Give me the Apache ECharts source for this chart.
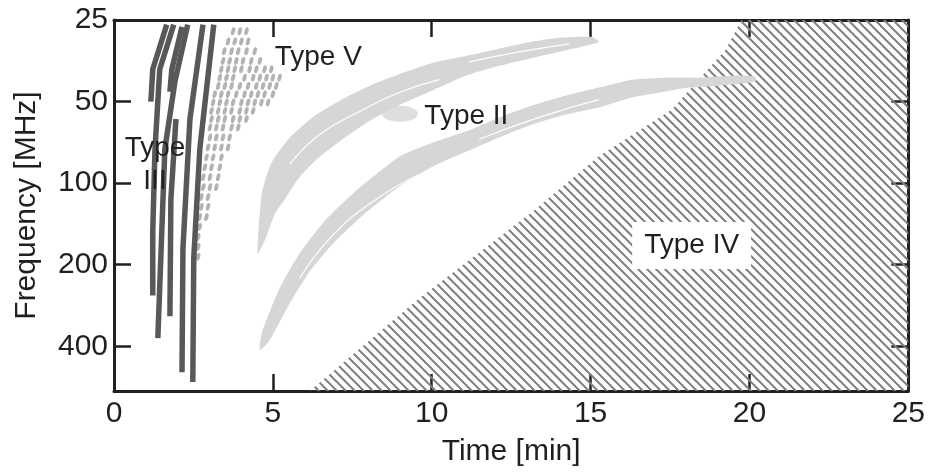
<!DOCTYPE html>
<html>
<head>
<meta charset="utf-8">
<script src="https://cdn.jsdelivr.net/npm/echarts@6/dist/echarts.min.js"></script>
<style>
  html, body { margin: 0; background: #fff; }
  #chart { width: 928px; height: 472px; }
</style>
</head>
<body>
<div id="chart"></div>
<script>
// axis ranges and tick labels
const timeMin = 0
const timeMax = 25
const timeStep = 5
const freqTicks = [25, 50, 100, 200, 400]
const freqMin = 25
const freqMax = 585

// Type III: fast drifting bursts, [time min, freq MHz]
const typeIIIBursts = [
  [[1.66, 26], [1.22, 38], [1.16, 50]],
  [[2.14, 26.5], [1.82, 38], [1.76, 46]],
  [[1.88, 26], [1.44, 38], [1.29, 75], [1.22, 150], [1.22, 260]],
  [[2.32, 26], [1.92, 42], [1.60, 75], [1.38, 373]],
  [[1.95, 58], [1.79, 115], [1.76, 310]],
  [[2.80, 26], [2.39, 58], [2.17, 174], [2.14, 499]],
  [[3.14, 26], [2.70, 75], [2.51, 190], [2.48, 542]]
]

// Type V: dotted patch, one row per frequency
const typeVFreqs = [27.5, 30, 32.6, 35.4, 38, 40.8, 43.8, 47, 50.4, 54.1, 58, 62.3, 67.8, 73.8, 80.3, 87.4, 95.1, 103.5, 112.5, 122.3, 133.4, 145, 158, 172, 187]
const typeVTimes = [
  [3.75, 3.96, 4.17],
  [3.59, 3.80, 4.01, 4.22],
  [3.47, 3.70, 3.91, 4.17, 4.43],
  [3.43, 3.64, 3.85, 4.06, 4.32, 4.59],
  [3.38, 3.59, 3.80, 4.01, 4.27, 4.48, 4.74, 4.95],
  [3.33, 3.54, 3.75, 4.11, 4.38, 4.59, 4.80, 5.00, 5.21],
  [3.28, 3.49, 3.70, 3.96, 4.22, 4.48, 4.69, 4.90, 5.11],
  [3.17, 3.38, 3.59, 3.85, 4.11, 4.32, 4.53, 4.74, 5.00],
  [3.12, 3.33, 3.54, 3.75, 4.01, 4.22, 4.43, 4.64, 4.85],
  [3.07, 3.28, 3.49, 3.70, 3.96, 4.17, 4.38],
  [3.07, 3.28, 3.49, 3.75, 3.96, 4.17],
  [3.02, 3.22, 3.43, 3.70, 3.91],
  [3.02, 3.22, 3.43, 3.64],
  [2.96, 3.17, 3.38, 3.59],
  [2.91, 3.12, 3.38],
  [2.86, 3.07, 3.33],
  [2.81, 3.02, 3.28],
  [2.81, 3.02, 3.22],
  [2.75, 2.96],
  [2.75, 2.96],
  [2.70, 2.91],
  [2.70],
  [2.65],
  [2.65],
  [2.65]
]

// Type II: two slowly drifting lanes, outline of each lane
const typeIIUpper = [
  [4.65, 109.7], [4.96, 84], [5.53, 68], [6.31, 56.5], [7.26, 48.5], [8.20, 43], [9.14, 39],
  [10.02, 36], [11.09, 33.9], [12.12, 31.9], [13.16, 30.1], [14.01, 29.1], [15.04, 28.9],
  [15.26, 30.1], [14.73, 31.4], [14.01, 32.8], [13.16, 34.5], [12.12, 36.9], [11.09, 40.1],
  [10.02, 45.5], [8.98, 51.5], [8.04, 59], [7.26, 68], [6.47, 80], [5.84, 95], [5.37, 115],
  [5.06, 130], [4.77, 160.5], [4.52, 182]
]
const typeIILower = [
  [4.65, 358], [5.21, 245], [5.84, 182], [6.63, 137.9], [7.57, 108], [8.98, 80], [10.02, 71],
  [11.09, 64.4], [12.12, 57.2], [13.16, 51.7], [14.23, 47.5], [15.26, 44.4], [16.30, 41.5],
  [17.37, 40.8], [18.40, 40.8], [19.66, 40.1], [20.19, 40.5],
  [20.19, 42.2], [19.03, 43.7], [18.09, 44.4], [17.37, 45.9], [16.30, 48.3], [15.26, 52.6],
  [14.23, 55.8], [13.16, 60.7], [12.12, 67.8], [11.09, 76.5], [10.02, 87], [8.98, 103],
  [7.88, 130], [6.94, 165], [6.16, 212], [5.53, 278], [4.90, 380], [4.59, 414]
]
const typeIIBlob = [9.0, 55.5]
const typeIIStreaks = [
  [[5.53, 85.2], [6.47, 66.1], [7.73, 54.4], [8.98, 46.3], [10.24, 41.5]],
  [[11.18, 35.7], [12.75, 32.8], [14.32, 30.6]],
  [[5.84, 225], [6.78, 160.5], [8.04, 119.4], [9.61, 92.7]],
  [[11.49, 68.9], [13.38, 57.2], [15.26, 49.2]]
]

// Type IV: boundary of continuum (left edge), closed at the right frame
const typeIVEdge = [[6.16, 585], [9.61, 266], [13.16, 127.8], [15.26, 79.6], [17.56, 53.5], [19.25, 32.2], [19.75, 25]]

const labels = [
  { name: 'Type\nIII', value: [1.29, 85.2] },
  { name: 'Type V', value: [6.43, 34.2] },
  { name: 'Type II', value: [11.09, 56.8] },
  { name: 'Type IV', value: [18.18, 170], box: true }
]

const fy = f => Math.log2(f / freqMin)
const toXY = p => [p[0], fy(p[1])]

const axisColor = '#231f20'
const fontFamily = 'Liberation Sans, Arial, sans-serif'
const textFont = { fontFamily, fontSize: 30, color: axisColor }

// diagonal hatch pattern for Type IV
const hatch = document.createElement('canvas')
hatch.width = 9
hatch.height = 9
const hctx = hatch.getContext('2d')
hctx.strokeStyle = '#808080'
hctx.lineWidth = 2
for (const o of [-9, 0, 9]) {
  hctx.beginPath()
  hctx.moveTo(o - 1, -1)
  hctx.lineTo(o + 10, 10)
  hctx.stroke()
}

const polygonSeries = (points, fill, z, smooth) => ({
  type: 'custom',
  coordinateSystem: 'cartesian2d',
  clip: true,
  silent: true,
  z,
  data: points.map(toXY),
  encode: { x: 0, y: 1 },
  renderItem: (params, api) => {
    if (params.dataIndex !== 0) return null
    return {
      type: 'polygon',
      shape: { points: points.map(p => api.coord(toXY(p))), smooth },
      style: { fill }
    }
  }
})

const typeIVArea = typeIVEdge.concat([[timeMax, freqMin], [timeMax, freqMax]])

const series = [
  polygonSeries(typeIVArea, { image: hatch, repeat: 'repeat' }, 1, 0),
  polygonSeries(typeIIUpper, '#d6d6d6', 2, 0.2),
  polygonSeries(typeIILower, '#d6d6d6', 2, 0.2),
  {
    type: 'scatter',
    z: 2,
    silent: true,
    symbol: 'circle',
    symbolSize: [36, 16],
    itemStyle: { color: '#d6d6d6' },
    data: [toXY(typeIIBlob)]
  },
  ...typeIIStreaks.map(s => ({
    type: 'line',
    z: 3,
    silent: true,
    smooth: true,
    showSymbol: false,
    lineStyle: { color: '#ffffff', width: 1.2 },
    data: s.map(toXY)
  })),
  {
    type: 'scatter',
    z: 4,
    silent: true,
    symbol: 'circle',
    symbolSize: [4, 8],
    symbolRotate: -15,
    itemStyle: { color: '#a0a0a0' },
    data: typeVFreqs.flatMap((f, i) => typeVTimes[i].map(t => toXY([t, f])))
  },
  ...typeIIIBursts.map(b => ({
    type: 'line',
    z: 5,
    silent: true,
    showSymbol: false,
    lineStyle: { color: '#58585a', width: 5.5, cap: 'butt' },
    data: b.map(toXY)
  })),
  {
    type: 'custom',
    z: 6,
    silent: true,
    clip: false,
    data: labels.map(l => toXY(l.value)),
    encode: { x: 0, y: 1 },
    renderItem: (params, api) => {
      const l = labels[params.dataIndex]
      const [x, y] = api.coord(toXY(l.value))
      return {
        type: 'text',
        x,
        y,
        style: {
          text: l.name,
          fill: axisColor,
          font: '28px ' + fontFamily,
          align: 'center',
          verticalAlign: 'middle',
          lineHeight: 33,
          backgroundColor: l.box ? '#ffffff' : null,
          padding: l.box ? [7, 12, 7, 12] : 0
        }
      }
    }
  }
]

const tickStyle = { show: true, inside: true, length: 17, lineStyle: { color: axisColor, width: 2.5 } }
const lineStyle = { show: true, onZero: false, lineStyle: { color: axisColor, width: 3 } }
const freqLabel = v => {
  const i = Math.round(v)
  return Math.abs(v - i) < 1e-6 && freqTicks[i] !== undefined ? String(freqTicks[i]) : ''
}

const chart = echarts.init(document.getElementById('chart'), null, { renderer: 'canvas' })
chart.setOption({
  animation: false,
  grid: { left: 114, right: 18, top: 20, bottom: 79 },
  xAxis: [
    {
      type: 'value', position: 'bottom', min: timeMin, max: timeMax, interval: timeStep,
      name: 'Time [min]', nameLocation: 'middle', nameGap: 46,
      nameTextStyle: textFont,
      axisLine: lineStyle, axisTick: tickStyle, splitLine: { show: false },
      axisLabel: { ...textFont, margin: 8 }
    },
    {
      type: 'value', position: 'top', min: timeMin, max: timeMax, interval: timeStep,
      axisLine: lineStyle, axisTick: tickStyle, splitLine: { show: false }, axisLabel: { show: false }
    }
  ],
  yAxis: [
    {
      type: 'value', position: 'left', inverse: true, min: 0, max: fy(freqMax), interval: 1,
      name: 'Frequency [MHz]', nameLocation: 'middle', nameGap: 72,
      nameTextStyle: textFont,
      axisLine: lineStyle, axisTick: tickStyle, splitLine: { show: false },
      axisLabel: { ...textFont, margin: 6, formatter: freqLabel }
    },
    {
      type: 'value', position: 'right', inverse: true, min: 0, max: fy(freqMax), interval: 1,
      axisLine: lineStyle, axisTick: tickStyle, splitLine: { show: false }, axisLabel: { show: false }
    }
  ],
  series
})
</script>
</body>
</html>
